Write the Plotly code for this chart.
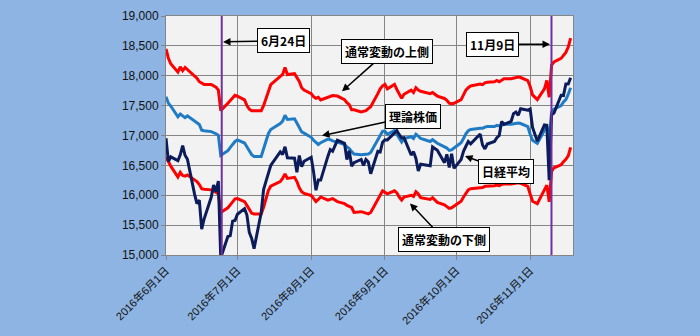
import plotly.graph_objects as go

# ---- trading days (2016) ----
month_days = {
    "06": [1, 2, 3, 6, 7, 8, 9, 10, 13, 14, 15, 16, 17, 20, 21, 22, 23, 24, 27, 28, 29, 30],
    "07": [1, 4, 5, 6, 7, 8, 11, 12, 13, 14, 15, 19, 20, 21, 22, 25, 26, 27, 28, 29],
    "08": [1, 2, 3, 4, 5, 8, 9, 10, 12, 15, 16, 17, 18, 19, 22, 23, 24, 25, 26, 29, 30, 31],
    "09": [1, 2, 5, 6, 7, 8, 9, 12, 13, 14, 15, 16, 20, 21, 23, 26, 27, 28, 29, 30],
    "10": [3, 4, 5, 6, 7, 11, 12, 13, 14, 17, 18, 19, 20, 21, 24, 25, 26, 27, 28, 31],
    "11": [1, 2, 4, 7, 8, 9, 10, 11, 14, 15, 16, 17, 18],
}
dates = [f"2016-{m}-{d:02d}" for m, ds in month_days.items() for d in ds]

# 日経平均
nikkei = [
    16955, 16563, 16642, 16580, 16676, 16830, 16669, 16602, 16020, 15859, 15920, 15434, 15600, 15966, 16169, 16065, 16238, 14952, 15310, 15323, 15567, 15576,
    15682, 15776, 15669, 15379, 15277, 15107, 15709, 16096, 16231, 16386, 16498, 16724, 16681, 16811, 16627, 16620, 16384, 16665, 16477, 16569,
    16635, 16391, 16084, 16255, 16254, 16650, 16765, 16736, 16920, 16870, 16596, 16746, 16487, 16546, 16599, 16498, 16598, 16556, 16361, 16737, 16726, 16887,
    16927, 16926, 17038, 17082, 17013, 16959, 16965, 16673, 16730, 16615, 16406, 16519, 16492, 16808, 16754, 16545, 16684, 16466, 16694, 16450,
    16599, 16736, 16820, 16900, 16860, 17025, 16841, 16775, 16857, 16900, 16964, 16999, 17236, 17185, 17235, 17366, 17392, 17337, 17447, 17425,
    17443, 17135, 16906, 17178, 17172, 16251, 17345, 17375, 17673, 17668, 17863, 17863, 17968,
]

# 理論株価
theory = [
    17648, 17540, 17493, 17313, 17360, 17330, 17300, 17330, 17250, 17220, 17184, 17090, 17080, 17065, 17050, 17030, 17003, 16668, 16745, 16790, 16850, 16900,
    16926, 16874, 16800, 16745, 16680, 16650, 16650, 16780, 16920, 17030, 17100, 17200, 17240, 17340, 17270, 17280, 17210, 17120, 17060, 17040,
    16970, 16920, 16880, 16850, 16880, 16940, 16930, 16910, 16890, 16850, 16810, 16780, 16730, 16690, 16680, 16680, 16680, 16690, 16715, 16940, 17015, 17070,
    17070, 17020, 17085, 17025, 16950, 16890, 16950, 16980, 16950, 17020, 16990, 16950, 16900, 16930, 16870, 16820, 16790, 16750, 16760, 16790,
    16880, 16950, 17030, 17080, 17100, 17120, 17120, 17140, 17150, 17150, 17170, 17160, 17180, 17190, 17190, 17200, 17200, 17210, 17200, 17150,
    17020, 16920, 16870, 17080, 17160, 16890, 17390, 17440, 17500, 17560, 17600, 17690, 17800,
]

# 通常変動の上側
upper = [
    18448, 18293, 18200, 18061, 18149, 18087, 18138, 18100, 17990, 17960, 17900, 17870, 17855, 17855, 17830, 17810, 17760, 17416, 17540, 17590, 17640, 17674,
    17660, 17596, 17500, 17440, 17416, 17416, 17416, 17500, 17622, 17760, 17850, 17990, 18020, 18138, 18020, 18035, 17970, 17906, 17800, 17760,
    17700, 17650, 17622, 17640, 17596, 17648, 17660, 17670, 17660, 17600, 17550, 17515, 17430, 17430, 17395, 17405, 17416, 17450, 17480, 17700, 17780, 17830,
    17855, 17780, 17855, 17770, 17690, 17622, 17690, 17760, 17720, 17800, 17760, 17740, 17700, 17720, 17660, 17620, 17590, 17540, 17530, 17540,
    17600, 17680, 17760, 17800, 17830, 17860, 17850, 17880, 17890, 17900, 17920, 17900, 17930, 17950, 17950, 17960, 17960, 17980, 17970, 17920,
    17820, 17680, 17600, 17780, 17920, 17640, 18180, 18230, 18290, 18340, 18390, 18480, 18630,
]

# 通常変動の下側
lower = [
    16642, 16560, 16487, 16306, 16384, 16330, 16320, 16340, 16260, 16230, 16180, 16110, 16100, 16090, 16074, 16050, 16023, 15713, 15790, 15840, 15890, 15940,
    15945, 15894, 15830, 15765, 15700, 15687, 15687, 15800, 15945, 16080, 16152, 16229, 16281, 16358, 16281, 16300, 16229, 16126, 16060, 16030,
    15997, 15950, 15894, 15930, 15971, 15919, 15930, 15945, 15894, 15860, 15830, 15810, 15795, 15713, 15725, 15713, 15700, 15687, 15713, 15945, 16010, 16074,
    16050, 16023, 16074, 16040, 15970, 15920, 15971, 16000, 15980, 16060, 16020, 15960, 15930, 15960, 15880, 15840, 15810, 15780, 15790, 15820,
    15900, 15970, 16040, 16090, 16110, 16130, 16130, 16150, 16150, 16160, 16170, 16160, 16180, 16190, 16190, 16200, 16200, 16210, 16200, 16150,
    16020, 15900, 15860, 16080, 16170, 15890, 16400, 16460, 16510, 16560, 16600, 16660, 16800,
]

tick_dates = ["2016-06-01", "2016-07-01", "2016-08-01", "2016-09-01", "2016-10-01", "2016-11-01"]
tick_labels = ["2016年6月1日", "2016年7月1日", "2016年8月1日", "2016年9月1日", "2016年10月1日", "2016年11月1日"]
y_ticks = [15000, 15500, 16000, 16500, 17000, 17500, 18000, 18500, 19000]
event_dates = ["2016-06-24 10:00", "2016-11-09 23:00"]

RED = "#FF0000"
LBLUE = "#1F7CC4"
NAVY = "#0C1C5A"
PURPLE = "#7030A0"

fig = go.Figure()
fig.add_trace(go.Scatter(x=dates, y=upper, mode="lines", line=dict(color=RED, width=3), name="通常変動の上側"))
fig.add_trace(go.Scatter(x=dates, y=lower, mode="lines", line=dict(color=RED, width=3), name="通常変動の下側"))
fig.add_trace(go.Scatter(x=dates, y=theory, mode="lines", line=dict(color=LBLUE, width=3), name="理論株価"))
fig.add_trace(go.Scatter(x=dates, y=nikkei, mode="lines", line=dict(color=NAVY, width=3), name="日経平均"))

for ed in event_dates:
    fig.add_shape(type="line", x0=ed, x1=ed, xref="x", yref="paper", y0=0, y1=1,
                  line=dict(color=PURPLE, width=2), layer="above")

L, R, T, B = 166, 573, 9, 267.5
W, H = R - L, B - T


def px(xp, yp):
    return (xp - L) / W, (B - yp) / H


jp_font = dict(family="Noto Sans CJK JP", size=12, color="black", weight="bold")


def add_box(text, cx, cy, hx, hy):
    x, y = px(hx, hy)
    fig.add_annotation(text=text, xref="paper", yref="paper", x=x, y=y,
                       ax=cx - hx, ay=cy - hy, axref="pixel", ayref="pixel",
                       showarrow=True, arrowhead=2, arrowsize=1, arrowwidth=1.5, arrowcolor="black",
                       font=jp_font, bgcolor="white", bordercolor="black", borderwidth=1, borderpad=3)


add_box("6月24日", 283, 36, 223, 37)
add_box("11月9日", 492.5, 39.5, 550, 39.5)
add_box("通常変動の上側", 387, 50.5, 342, 90.5)
add_box("理論株価", 413, 119, 322, 138.3)
add_box("日経平均", 506, 175.5, 465, 160.5)
add_box("通常変動の下側", 444, 247.5, 410, 211.7)

fig.update_layout(
    width=700, height=336,
    margin=dict(l=L, r=700 - R, t=T, b=336 - B),
    paper_bgcolor="#8DB4E2",
    plot_bgcolor="#F2F2F2",
    showlegend=False,
    font=dict(family="Liberation Sans, Noto Sans CJK JP", size=12, color="#111"),
)
fig.update_xaxes(
    type="date", range=["2016-06-01", "2016-11-19"],
    tickvals=tick_dates, ticktext=tick_labels, tickangle=-45,
    tickfont=dict(family="Liberation Sans, Noto Sans CJK JP", size=11, color="#111"),
    showgrid=True, gridcolor="#858585", gridwidth=1,
    showline=True, linecolor="#858585", linewidth=1, mirror=True,
    ticks="outside", ticklen=4, tickcolor="#858585", zeroline=False,
)
fig.update_yaxes(
    range=[15000, 19000], tickvals=y_ticks, tickformat=",d",
    tickfont=dict(family="Liberation Sans", size=12, color="#111"),
    showgrid=True, gridcolor="#858585", gridwidth=1,
    showline=True, linecolor="#858585", linewidth=1, mirror=True,
    ticks="outside", ticklen=4, tickcolor="#858585", zeroline=False,
)

fig.write_html("out.html")
